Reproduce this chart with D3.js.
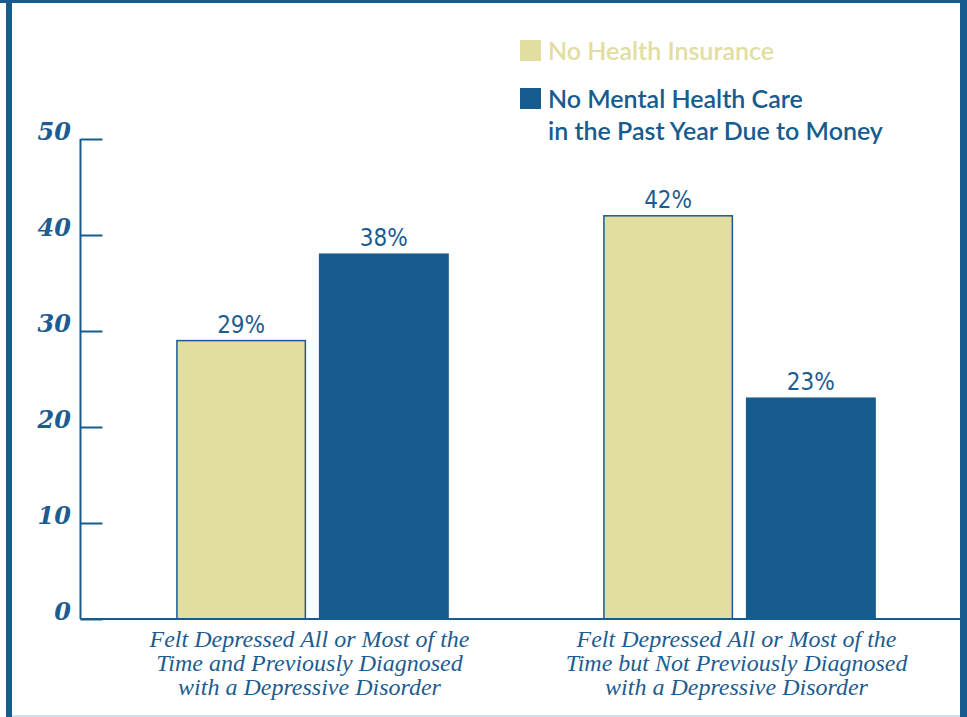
<!DOCTYPE html>
<html>
<head>
<meta charset="utf-8">
<script src="https://cdn.jsdelivr.net/npm/d3@7"></script>
<style>
  html, body { margin: 0; padding: 0; background: #fff; }
  svg { display: block; }
  .tick-label { font-family: "DejaVu Serif", "Liberation Serif", serif; font-style: italic; font-weight: bold; fill: #1d5c8f; }
  .cat-label { font-family: "Liberation Serif", serif; font-style: italic; fill: #1d5c8f; }
  .val-label { font-family: "DejaVu Sans Condensed", "DejaVu Sans", sans-serif; font-stretch: condensed; fill: #1d5c8f; }
  .legend-label { font-family: "Lato", "Noto Sans", sans-serif; }
</style>
</head>
<body>
<svg id="chart"></svg>
<script>
var categories = [
    ["Felt Depressed All or Most of the", "Time and Previously Diagnosed", "with a Depressive Disorder"],
    ["Felt Depressed All or Most of the", "Time but Not Previously Diagnosed", "with a Depressive Disorder"]
];
var seriesNames = ["No Health Insurance", "No Mental Health Care"];
var noInsurance = [29, 42];
var noCareMoney = [38, 23];
var tickValues = [0, 10, 20, 30, 40, 50];

var width = 967, height = 717;
var blue = "#175c8e", tan = "#e2dda0", textBlue = "#1d5c8f";

var svg = d3.select('#chart')
    .attr('width', width)
    .attr('height', height);

// frame round the picture
svg.append('rect').attr('x', 0).attr('y', 0).attr('width', width).attr('height', 3).attr('fill', blue);
svg.append('rect').attr('x', 6).attr('y', 0).attr('width', 6).attr('height', height).attr('fill', blue);
svg.append('rect').attr('x', 960).attr('y', 0).attr('width', 7).attr('height', height).attr('fill', blue);
svg.append('line').attr('x1', 12).attr('x2', 960).attr('y1', 716).attr('y2', 716)
    .attr('stroke', '#c4d6e6').attr('stroke-width', 1.5);

var y = d3.scaleLinear().domain([0, 50]).range([619, 139]);

var x0 = d3.scaleBand()
    .domain(d3.range(categories.length))
    .range([99, 953])
    .paddingInner(0.365)
    .paddingOuter(0.1825);

var x1 = d3.scaleBand()
    .domain([0, 1])
    .range([0, x0.bandwidth()])
    .paddingInner(0.1);

// y axis
var axisX = 80.5;
var yAxis = d3.axisRight(y)
    .tickValues(tickValues)
    .tickSize(22)
    .tickFormat('');
var axisG = svg.append('g')
    .attr('transform', 'translate(' + axisX + ',0)')
    .call(yAxis);
axisG.select('.domain').remove();
axisG.selectAll('.tick line').attr('stroke', blue).attr('stroke-width', 2);

svg.append('line')
    .attr('x1', axisX).attr('x2', axisX)
    .attr('y1', y(50)).attr('y2', y(0))
    .attr('stroke', blue).attr('stroke-width', 2);

svg.selectAll('.tick-label')
    .data(tickValues).enter()
    .append('text')
    .attr('class', 'tick-label')
    .attr('x', 71)
    .attr('y', function (d) { return y(d) + 1; })
    .attr('text-anchor', 'end')
    .style('font-size', '24px')
    .text(function (d) { return d; });

// bars
var rows = categories.map(function (c, i) {
    return [
        { group: i, s: 0, value: noInsurance[i] },
        { group: i, s: 1, value: noCareMoney[i] }
    ];
});

var groups = svg.append('g').selectAll('g')
    .data(rows).enter()
    .append('g')
    .attr('transform', function (d, i) { return 'translate(' + x0(i) + ',0)'; });

groups.selectAll('rect')
    .data(function (d) { return d; }).enter()
    .append('rect')
    .attr('x', function (d) { return x1(d.s); })
    .attr('y', function (d) { return y(d.value); })
    .attr('width', x1.bandwidth())
    .attr('height', function (d) { return y(0) - y(d.value); })
    .attr('fill', function (d) { return d.s === 0 ? tan : blue; })
    .attr('stroke', blue)
    .attr('stroke-width', 1.5);

groups.selectAll('.val-label')
    .data(function (d) { return d; }).enter()
    .append('text')
    .attr('class', 'val-label')
    .attr('x', function (d) { return x1(d.s) + x1.bandwidth() / 2; })
    .attr('y', function (d) { return y(d.value) - 8; })
    .attr('text-anchor', 'middle')
    .style('font-size', '24px')
    .text(function (d) { return d.value + '%'; });

// baseline
svg.append('line')
    .attr('x1', axisX).attr('x2', 960)
    .attr('y1', y(0)).attr('y2', y(0))
    .attr('stroke', blue).attr('stroke-width', 2);

// category labels
var catText = svg.selectAll('.cat-label')
    .data(categories).enter()
    .append('text')
    .attr('class', 'cat-label')
    .attr('text-anchor', 'middle')
    .style('font-size', '24px')
    .attr('transform', function (d, i) {
        return 'translate(' + (x0(i) + x0.bandwidth() / 2 - 3) + ',647)';
    });
catText.selectAll('tspan')
    .data(function (d) { return d; }).enter()
    .append('tspan')
    .attr('x', 0)
    .attr('dy', function (d, i) { return i === 0 ? 0 : 24; })
    .text(function (d) { return d; });

// legend
var legend = svg.append('g').attr('class', 'legend');
legend.append('rect').attr('x', 520).attr('y', 40).attr('width', 21).attr('height', 21).attr('fill', tan);
legend.append('text').attr('class', 'legend-label')
    .attr('x', 548).attr('y', 60)
    .attr('fill', tan)
    .style('font-size', '25px')
    .style('font-weight', 600)
    .text(seriesNames[0]);
legend.append('rect').attr('x', 520).attr('y', 88).attr('width', 21).attr('height', 21).attr('fill', blue);
var l2 = legend.append('text').attr('class', 'legend-label')
    .attr('fill', blue)
    .style('font-size', '25px')
    .style('font-weight', 600);
l2.append('tspan').attr('x', 548).attr('y', 108).text(seriesNames[1]);
l2.append('tspan').attr('x', 548).attr('y', 140).text('in the Past Year Due to Money');
</script>
</body>
</html>
